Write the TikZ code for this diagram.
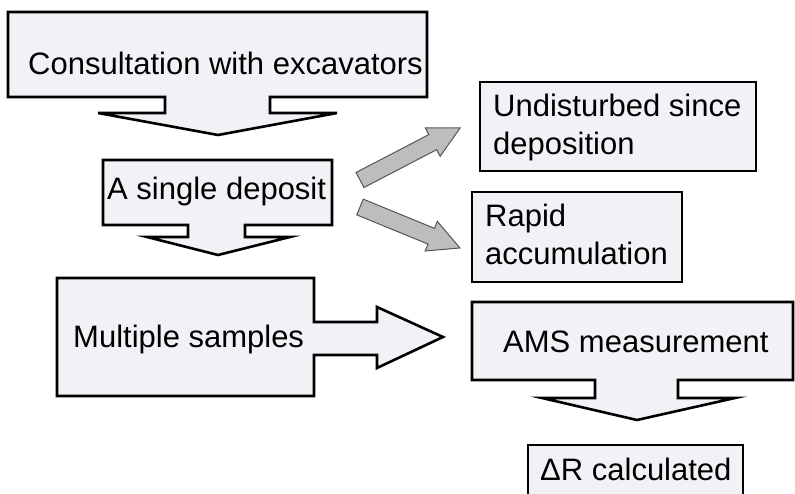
\documentclass[tikz,border=0pt]{standalone}
\usepackage{fontspec}
\setmainfont{Liberation Sans}
\definecolor{boxfill}{HTML}{F2F1F6}
\definecolor{arrowfill}{HTML}{BDBDBD}
\definecolor{arrowline}{HTML}{555555}
\tikzset{
  callout/.style={draw=black, line width=2.6pt, fill=boxfill, line join=miter},
  blockarrow/.style={draw=arrowline, line width=1pt, fill=arrowfill},
  txt/.style={inner sep=0pt, anchor=base west, font=\fontsize{31}{38}\selectfont, align=left}
}
\begin{document}
\begin{tikzpicture}[x=1pt,y=-1pt]
\useasboundingbox (0,0) rectangle (795,494);
\clip (0,0) rectangle (795,494);
\fill[white] (0,0) rectangle (795,494);
% boxes with their own arrows
\draw[callout] (8,12) -- (427,12) -- (427,97) -- (270,97) -- (270,113) -- (337,113)
  -- (218,135) -- (98,113) -- (165,113) -- (165,97) -- (8,97) -- cycle;
\draw[callout] (103,160) -- (332,160) -- (332,225) -- (245,225) -- (245,237) -- (290,237)
  -- (218,255) -- (147,237) -- (188,237) -- (188,225) -- (103,225) -- cycle;
\draw[callout] (57,278) -- (314,278) -- (314,322) -- (377,322) -- (377,307) -- (443,337)
  -- (377,368) -- (377,355) -- (314,355) -- (314,396) -- (57,396) -- cycle;
\draw[callout] (480,82) rectangle (756,171);
\draw[callout] (472,192) rectangle (682,282);
\draw[callout] (472,302) -- (793,302) -- (793,380) -- (678,380) -- (678,398) -- (735,398)
  -- (637,420) -- (542,398) -- (595,398) -- (595,380) -- (472,380) -- cycle;
\draw[callout] (528,445) rectangle (743,510);
% grey arrows
\begin{scope}[shift={(360,180)}, rotate=27.5]
\draw[blockarrow] (0,-8.5) -- (82,-8.5) -- (82,-16) -- (113,0) -- (82,16) -- (82,8.5) -- (0,8.5) -- cycle;
\end{scope}
\begin{scope}[shift={(360,207)}, rotate=-22.3]
\draw[blockarrow] (0,-8.5) -- (77,-8.5) -- (77,-16) -- (108,0) -- (77,16) -- (77,8.5) -- (0,8.5) -- cycle;
\end{scope}
% texts
\node[txt] (consult) at (28,75) {Consultation with excavators};
\node[txt] (deposit) at (107,200) {A single deposit};
\node[txt] (samples) at (73,347) {Multiple samples};
\node[txt] (undisturbed) at (493,155) {Undisturbed since\\deposition};
\node[txt] (rapid) at (485,265) {Rapid\\accumulation};
\node[txt] (ams) at (503,352) {AMS measurement};
\node[txt] (deltar) at (540,480) {ΔR calculated};
\end{tikzpicture}
\end{document}
